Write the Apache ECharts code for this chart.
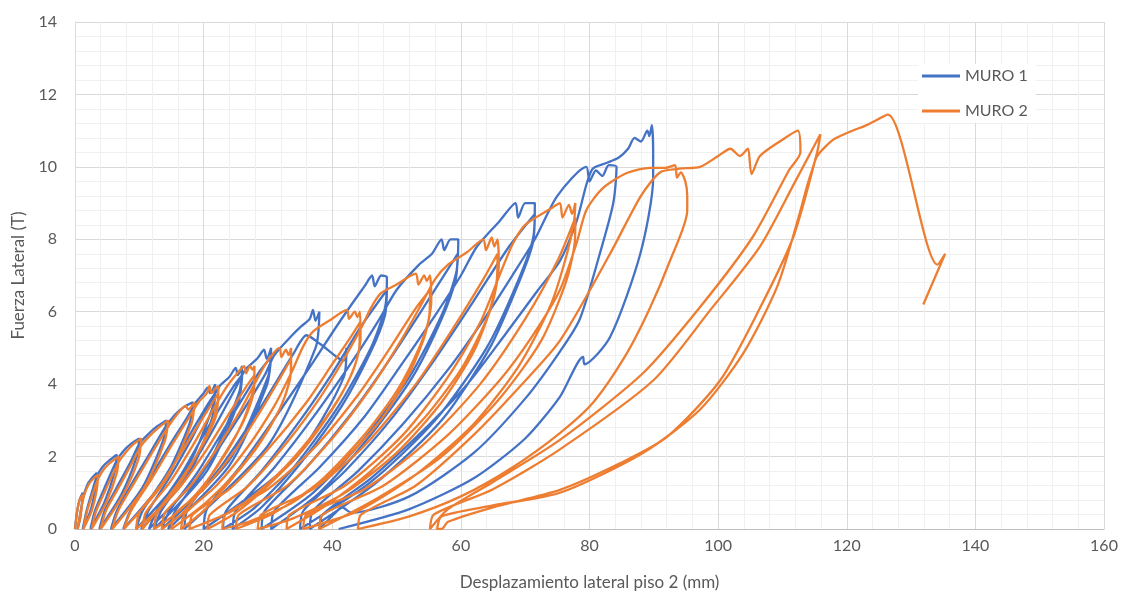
<!DOCTYPE html>
<html><head><meta charset="utf-8">
<script src="https://cdn.jsdelivr.net/npm/echarts@6.0.0/dist/echarts.min.js"></script>
<style>html,body{margin:0;padding:0;background:#fff}#c{width:1123px;height:596px}</style>
</head><body><div id="c"></div>
<script>
const seriesNames = ['MURO 1', 'MURO 2'];
const xTitle = 'Desplazamiento lateral piso 2 (mm)';
const yTitle = 'Fuerza Lateral (T)';

// MURO 1: [desplazamiento (mm), fuerza (T)]
const muro1 = [
[0,0],[0.3,0.45],[0.7,0.8],[1.2,1.0],[1.1,0.75],[0.8,0.3],[0.4,0],
[0.9,0.5],[1.3,0.9],[2,1.25],[2.7,1.42],[3.4,1.55],[3.2,1.15],[2.4,0.5],[1.2,0],
[1.8,0.5],[2.6,1.0],[3.4,1.45],[4.3,1.72],[5.4,1.9],[6.5,2.05],[6.2,1.6],[4.6,0.75],[2.4,0],
[3.1,0.5],[4.5,1.1],[6.5,1.9],[7.5,2.15],[8.7,2.35],[10,2.5],[9.6,2.0],[7.2,0.95],[3.8,0],
[4.6,0.5],[6.5,1.15],[8.5,1.8],[10,2.35],[11,2.55],[12.5,2.8],[14.2,3.0],[13.7,2.45],[10.5,1.15],[5.6,0],
[6.5,0.5],[9,1.3],[11.5,2.05],[14,2.8],[15.5,3.15],[16.8,3.35],[18.3,3.5],[17.8,2.9],[13.8,1.35],[7.5,0],
[8.6,0.5],[11.5,1.35],[14.5,2.25],[17.5,3.1],[18.8,3.5],[20,3.75],[20.6,3.9],[21,3.75],[21.8,4.0],[21.3,3.3],[17,1.55],[9.5,0],
[10.5,0.5],[14,1.45],[17.5,2.5],[20.5,3.4],[21.8,3.75],[21.3,3.05],[17.5,1.45],[10.3,0],
[11.4,0.5],[14.8,1.45],[18.3,2.55],[21.2,3.55],[22.5,3.95],[24,4.2],[25,4.45],[25.3,4.25],[26,4.5],[25.5,3.75],[20.5,1.75],[11.5,0],
[12.7,0.5],[16.5,1.5],[20.5,2.75],[24.5,3.9],[26,4.25],[25.4,3.5],[20.5,1.6],[12.3,0],
[13.4,0.5],[17.5,1.55],[21.5,2.75],[25,3.9],[26.5,4.4],[28.3,4.7],[29.4,4.95],[29.8,4.7],[30.5,5.0],[30,4.2],[24,1.9],[13.5,0],
[14.7,0.5],[19,1.55],[24,3.0],[28.5,4.3],[30.5,4.75],[29.8,3.95],[24,1.75],[14.5,0],
[15.6,0.5],[20,1.6],[25,2.95],[29.5,4.25],[31,4.8],[33.5,5.3],[35.2,5.6],[36.5,5.8],[37,6.05],[37.4,5.75],[38,6.0],[37.4,5.0],[30,2.3],[17,0],
[17.5,0.55],[23,1.8],[29,3.4],[34,4.85],[36,5.35],[38.2,5.1],[40.7,4.75],[41.8,4.65],[42.2,5.0],[41.8,4.2],[34,1.9],[20,0],
[20.5,0.55],[26,1.8],[32,3.3],[37,4.6],[40.5,5.55],[43,6.2],[45,6.7],[46.2,7.0],[46.6,6.7],[47.6,7.0],[48.5,6.95],[48.2,6.1],[46,5.0],[41,3.4],[34,1.7],[28,0.6],[23,0],
[23.5,0.5],[29,1.6],[35,3.0],[40,4.3],[44.5,5.6],[48.5,6.6],[48.2,5.9],[46,4.9],[41.5,3.4],[35,1.8],[29,0.6],[24.5,0],
[25,0.5],[31,1.7],[37.5,3.2],[43,4.6],[47,5.7],[50,6.6],[53.5,7.3],[55.5,7.6],[57,8.0],[57.4,7.7],[58.4,8.0],[59.6,8.0],[59.3,7.1],[57,5.9],[52,4.2],[45,2.5],[37,1.0],[29,0],
[29.5,0.5],[36,1.7],[43,3.2],[49,4.7],[54.5,6.2],[59.5,7.6],[59.2,6.9],[57,5.8],[52.5,4.2],[46,2.6],[38,1.0],[30.5,0],
[31,0.5],[38,1.7],[45,3.1],[51,4.6],[56,5.9],[60,7.0],[62.5,7.8],[66,8.5],[68.5,9.0],[68.9,8.6],[70,9.0],[71.5,9.0],[71.3,8.1],[69,6.9],[64,5.0],[56,3.0],[46,1.3],[35,0],
[35.5,0.5],[42,1.6],[49,3.0],[56,4.7],[62,6.3],[67.5,7.8],[71.5,8.7],[71.2,7.9],[69,6.8],[64.5,5.0],[57,3.0],[47,1.3],[36.5,0],
[37,0.5],[44,1.6],[51,2.9],[58,4.4],[64,5.9],[68,7.0],[71.5,8.0],[75,9.2],[79.5,10.0],[80,9.6],[81,9.9],[82,9.75],[83,10.05],[84.2,10.0],[83.7,9.0],[81.6,7.6],[78.5,5.8],[75.4,4.9],[70,3.6],[62,2.1],[52,0.9],[43,0.45],[41.5,0.6],[40.5,0.45],[38,0],
[38.5,0.4],[46,1.4],[54,2.7],[61,4.0],[67,5.4],[72,6.6],[75.4,7.4],[78,8.5],[79.5,9.5],[80.5,9.95],[82.5,10.1],[84.5,10.25],[86,10.5],[87,10.8],[88,10.7],[89,11.0],[89.3,10.85],[89.7,11.15],[89.9,10.4],[89.9,9.7],[87.9,7.6],[83.2,5.3],[79.2,4.55],[79,4.75],[75.4,3.65],[70,2.5],[62,1.4],[52,0.55],[41,0]
];

// MURO 2: [desplazamiento (mm), fuerza (T)]
const muro2 = [
[0,0],[0.3,0.45],[0.7,0.8],[1.2,0.95],[1.1,0.7],[0.8,0.3],[0.4,0],
[0.9,0.5],[1.4,0.92],[2.1,1.22],[2.8,1.38],[3.6,1.5],[3.4,1.1],[2.6,0.5],[1.3,0],
[1.9,0.5],[2.8,1.0],[3.7,1.42],[4.6,1.68],[5.7,1.86],[6.8,2.0],[6.5,1.55],[4.9,0.75],[2.6,0],
[3.3,0.5],[4.8,1.1],[6.8,1.85],[7.8,2.1],[9,2.33],[10.3,2.5],[9.9,1.95],[7.5,0.95],[4,0],
[4.8,0.5],[6.8,1.15],[8.8,1.8],[10.3,2.3],[11.5,2.55],[13,2.8],[14.5,3.0],[14,2.45],[10.8,1.15],[5.8,0],
[6.7,0.5],[9.3,1.3],[11.8,2.05],[14.4,2.8],[15.8,3.15],[17.2,3.4],[17.6,3.3],[18.6,3.5],[18.1,2.9],[14.1,1.35],[7.6,0],
[8.7,0.5],[11.8,1.35],[15,2.3],[17.8,3.1],[19.2,3.5],[20.5,3.75],[20.9,3.95],[21.2,3.75],[21.9,3.9],[22.3,3.95],[22.1,3.4],[20.5,2.6],[17,1.45],[13,0.55],[9.5,0],
[10,0.45],[13.5,1.25],[17,2.25],[20,3.1],[22.3,3.75],[21.9,3.1],[19.8,2.3],[16,1.25],[13,0.55],[10.5,0],
[11,0.45],[14.8,1.3],[18.3,2.3],[21.5,3.3],[23.3,3.85],[25,4.25],[26.3,4.5],[26.6,4.3],[27.2,4.5],[27.6,4.4],[27.9,4.5],[27.8,3.95],[26.3,3.05],[23.5,2.1],[19.5,1.1],[15.5,0.4],[12.3,0],
[12.8,0.45],[16.5,1.2],[20.5,2.2],[24,3.2],[26.5,3.9],[27.9,4.25],[27.7,3.7],[26,2.9],[23,2.0],[19.5,1.05],[16.5,0.4],[13.5,0],
[14,0.45],[18,1.2],[22,2.2],[25.5,3.2],[27.9,4.0],[29.8,4.6],[31.8,5.0],[32.1,4.75],[32.8,4.95],[33.2,4.8],[33.6,5.0],[33.6,4.4],[32.3,3.5],[29.5,2.6],[25.5,1.65],[20.5,0.75],[15,0],
[15.5,0.4],[20,1.1],[25,2.2],[29,3.3],[32,4.2],[33.6,4.7],[33.4,4.1],[31.8,3.3],[28.5,2.3],[24,1.3],[20,0.5],[16.5,0],
[17,0.4],[22,1.2],[27,2.3],[31,3.4],[33.6,4.3],[35.5,5.05],[37,5.45],[39.5,5.75],[42.3,6.05],[42.6,5.8],[43.5,6.0],[43.9,5.85],[44.3,6.0],[44.4,5.3],[43.5,4.5],[41,3.6],[37,2.6],[31.5,1.5],[25,0.55],[17.8,0],
[18.3,0.4],[24,1.1],[30,2.2],[36,3.5],[40,4.55],[42.5,5.2],[44.3,5.7],[44.2,5.0],[42.8,4.2],[40,3.3],[35.5,2.2],[30,1.2],[25,0.45],[20.6,0],
[21,0.4],[27,1.2],[33,2.4],[38,3.6],[42,4.75],[44.5,5.55],[46,6.1],[47.5,6.5],[50,6.75],[53,7.05],[53.4,6.75],[54.3,7.0],[54.7,6.85],[55.2,7.0],[55.4,6.3],[54.5,5.4],[52,4.3],[47.5,3.0],[41,1.75],[34,0.75],[27,0.2],[22.9,0],
[23.4,0.4],[30,1.1],[37,2.2],[44,3.7],[49,5.0],[53,6.1],[55.2,6.6],[55.1,5.9],[53.5,5.0],[50,3.8],[45,2.6],[38,1.3],[31,0.45],[25,0],
[25.5,0.4],[33,1.2],[40,2.5],[46,3.9],[51,5.3],[54,6.25],[56,6.9],[58,7.3],[61,7.65],[63.5,8.0],[63.9,7.7],[64.8,8.05],[65.2,7.8],[65.7,8.0],[65.9,7.3],[65,6.3],[62,4.9],[57,3.5],[50,2.1],[42,1.0],[34,0.3],[28.4,0],
[29,0.4],[37,1.1],[45,2.3],[53,4.0],[59,5.6],[63.5,6.9],[65.7,7.6],[65.6,6.9],[64,5.8],[60,4.4],[54,3.0],[46,1.6],[39,0.65],[32.9,0],
[33.4,0.4],[42,1.2],[51,2.6],[58,4.2],[63,5.7],[66,7.0],[68,7.85],[70,8.4],[74,8.85],[75.4,9.0],[75.8,8.6],[76.8,8.95],[77.3,8.7],[77.8,9.0],[77.6,8.5],[76.5,7.6],[74,6.2],[69,4.5],[62,2.9],[53,1.5],[44,0.5],[35.5,0],
[36,0.4],[45,1.1],[54,2.3],[63,4.0],[70,5.8],[75,7.4],[77.8,8.6],[77.7,7.9],[76.3,6.8],[72.5,5.2],[66,3.6],[57,2.0],[47,0.85],[38,0],
[38.5,0.4],[48,1.2],[58,2.6],[66,4.1],[71,5.3],[75.4,6.6],[78,7.9],[79.5,8.8],[82,9.4],[85.8,9.83],[89.4,9.97],[91.8,9.97],[93.3,10.05],[93.6,9.7],[94.2,9.85],[94.9,9.6],[95.2,9.2],[95.2,8.8],[92.5,7.4],[89.4,6.1],[85.8,4.85],[80.6,3.5],[75.4,2.65],[68,1.7],[60,0.9],[52,0.35],[44,0],
[44.5,0.4],[53,1.2],[62,2.6],[69,3.9],[75.4,5.2],[83.2,7.6],[88,9.2],[91,9.85],[94,9.95],[97.2,10.0],[100,10.3],[101.9,10.5],[103.4,10.3],[104.6,10.5],[105.2,9.8],[106.5,10.3],[110,10.75],[112.4,11.0],[112.8,10.4],[111,9.9],[105.4,8.07],[97.2,6.13],[88.3,4.3],[75.4,2.46],[65,1.3],[58,0.55],[55.2,0],
[55.8,0.4],[65,1.1],[75.4,2.2],[89.9,4.1],[98.8,6.05],[106.5,7.8],[112,9.6],[113.8,10.2],[115.9,10.9],[115.4,10.4],[111.7,8.07],[106.5,6.1],[100.3,4.1],[92.1,2.55],[84.8,1.82],[75.4,1.08],[65,0.6],[58,0.2],[57,0],
[56.3,0],[57,0.35],[65,0.65],[75.4,1.0],[88.3,2.1],[97.2,3.3],[103.9,4.85],[109.2,6.7],[112.5,8.6],[113.8,9.45],[114.6,9.9],[115.4,10.3],[117.9,10.75],[120.5,10.97],[123.2,11.16],[126.4,11.44],[134.1,7.3],[135.3,7.6],[131.9,6.2]
];

const chart = echarts.init(document.getElementById('c'), null, {renderer: 'canvas'});
const txt = '#595959';
const font = 'Lato, "Open Sans", sans-serif';
chart.setOption({
  backgroundColor: '#ffffff',
  animation: false,
  textStyle: {fontFamily: font},
  grid: {left: 75, right: 19, top: 22, bottom: 67, containLabel: false},
  legend: {
    data: seriesNames,
    orient: 'vertical',
    left: 918, top: 64,
    itemWidth: 38, itemHeight: 3, itemGap: 19,
    backgroundColor: '#ffffff',
    padding: [4, 8, 4, 4],
    textStyle: {color: txt, fontSize: 16, fontFamily: font},
    icon: 'rect'
  },
  xAxis: {
    type: 'value', min: 0, max: 160, interval: 20,
    name: xTitle, nameLocation: 'middle', nameGap: 45,
    nameTextStyle: {color: txt, fontSize: 17, fontFamily: font},
    axisLine: {show: true, lineStyle: {color: '#bfbfbf'}},
    axisTick: {show: false},
    axisLabel: {color: txt, fontSize: 16, margin: 9, fontFamily: font},
    splitLine: {show: true, lineStyle: {color: '#d9d9d9', width: 1}},
    minorTick: {show: false, splitNumber: 5},
    minorSplitLine: {show: true, lineStyle: {color: '#f0f0f0', width: 1}}
  },
  yAxis: {
    type: 'value', min: 0, max: 14, interval: 2,
    name: yTitle, nameLocation: 'middle', nameGap: 48, nameRotate: 90,
    nameTextStyle: {color: txt, fontSize: 17, fontFamily: font},
    axisLine: {show: true, lineStyle: {color: '#d9d9d9'}},
    axisTick: {show: false},
    axisLabel: {color: txt, fontSize: 16, margin: 18, fontFamily: font},
    splitLine: {show: true, lineStyle: {color: '#d9d9d9', width: 1}},
    minorTick: {show: false, splitNumber: 5},
    minorSplitLine: {show: true, lineStyle: {color: '#f0f0f0', width: 1}}
  },
  series: [
    {name: seriesNames[0], type: 'line', data: muro1, showSymbol: false, smooth: 0.25,
     lineStyle: {color: '#4472C4', width: 2.3}, itemStyle: {color: '#4472C4'}, z: 2},
    {name: seriesNames[1], type: 'line', data: muro2, showSymbol: false, smooth: 0.25,
     lineStyle: {color: '#ED7D31', width: 2.3}, itemStyle: {color: '#ED7D31'}, z: 3}
  ]
});
</script>
</body></html>
